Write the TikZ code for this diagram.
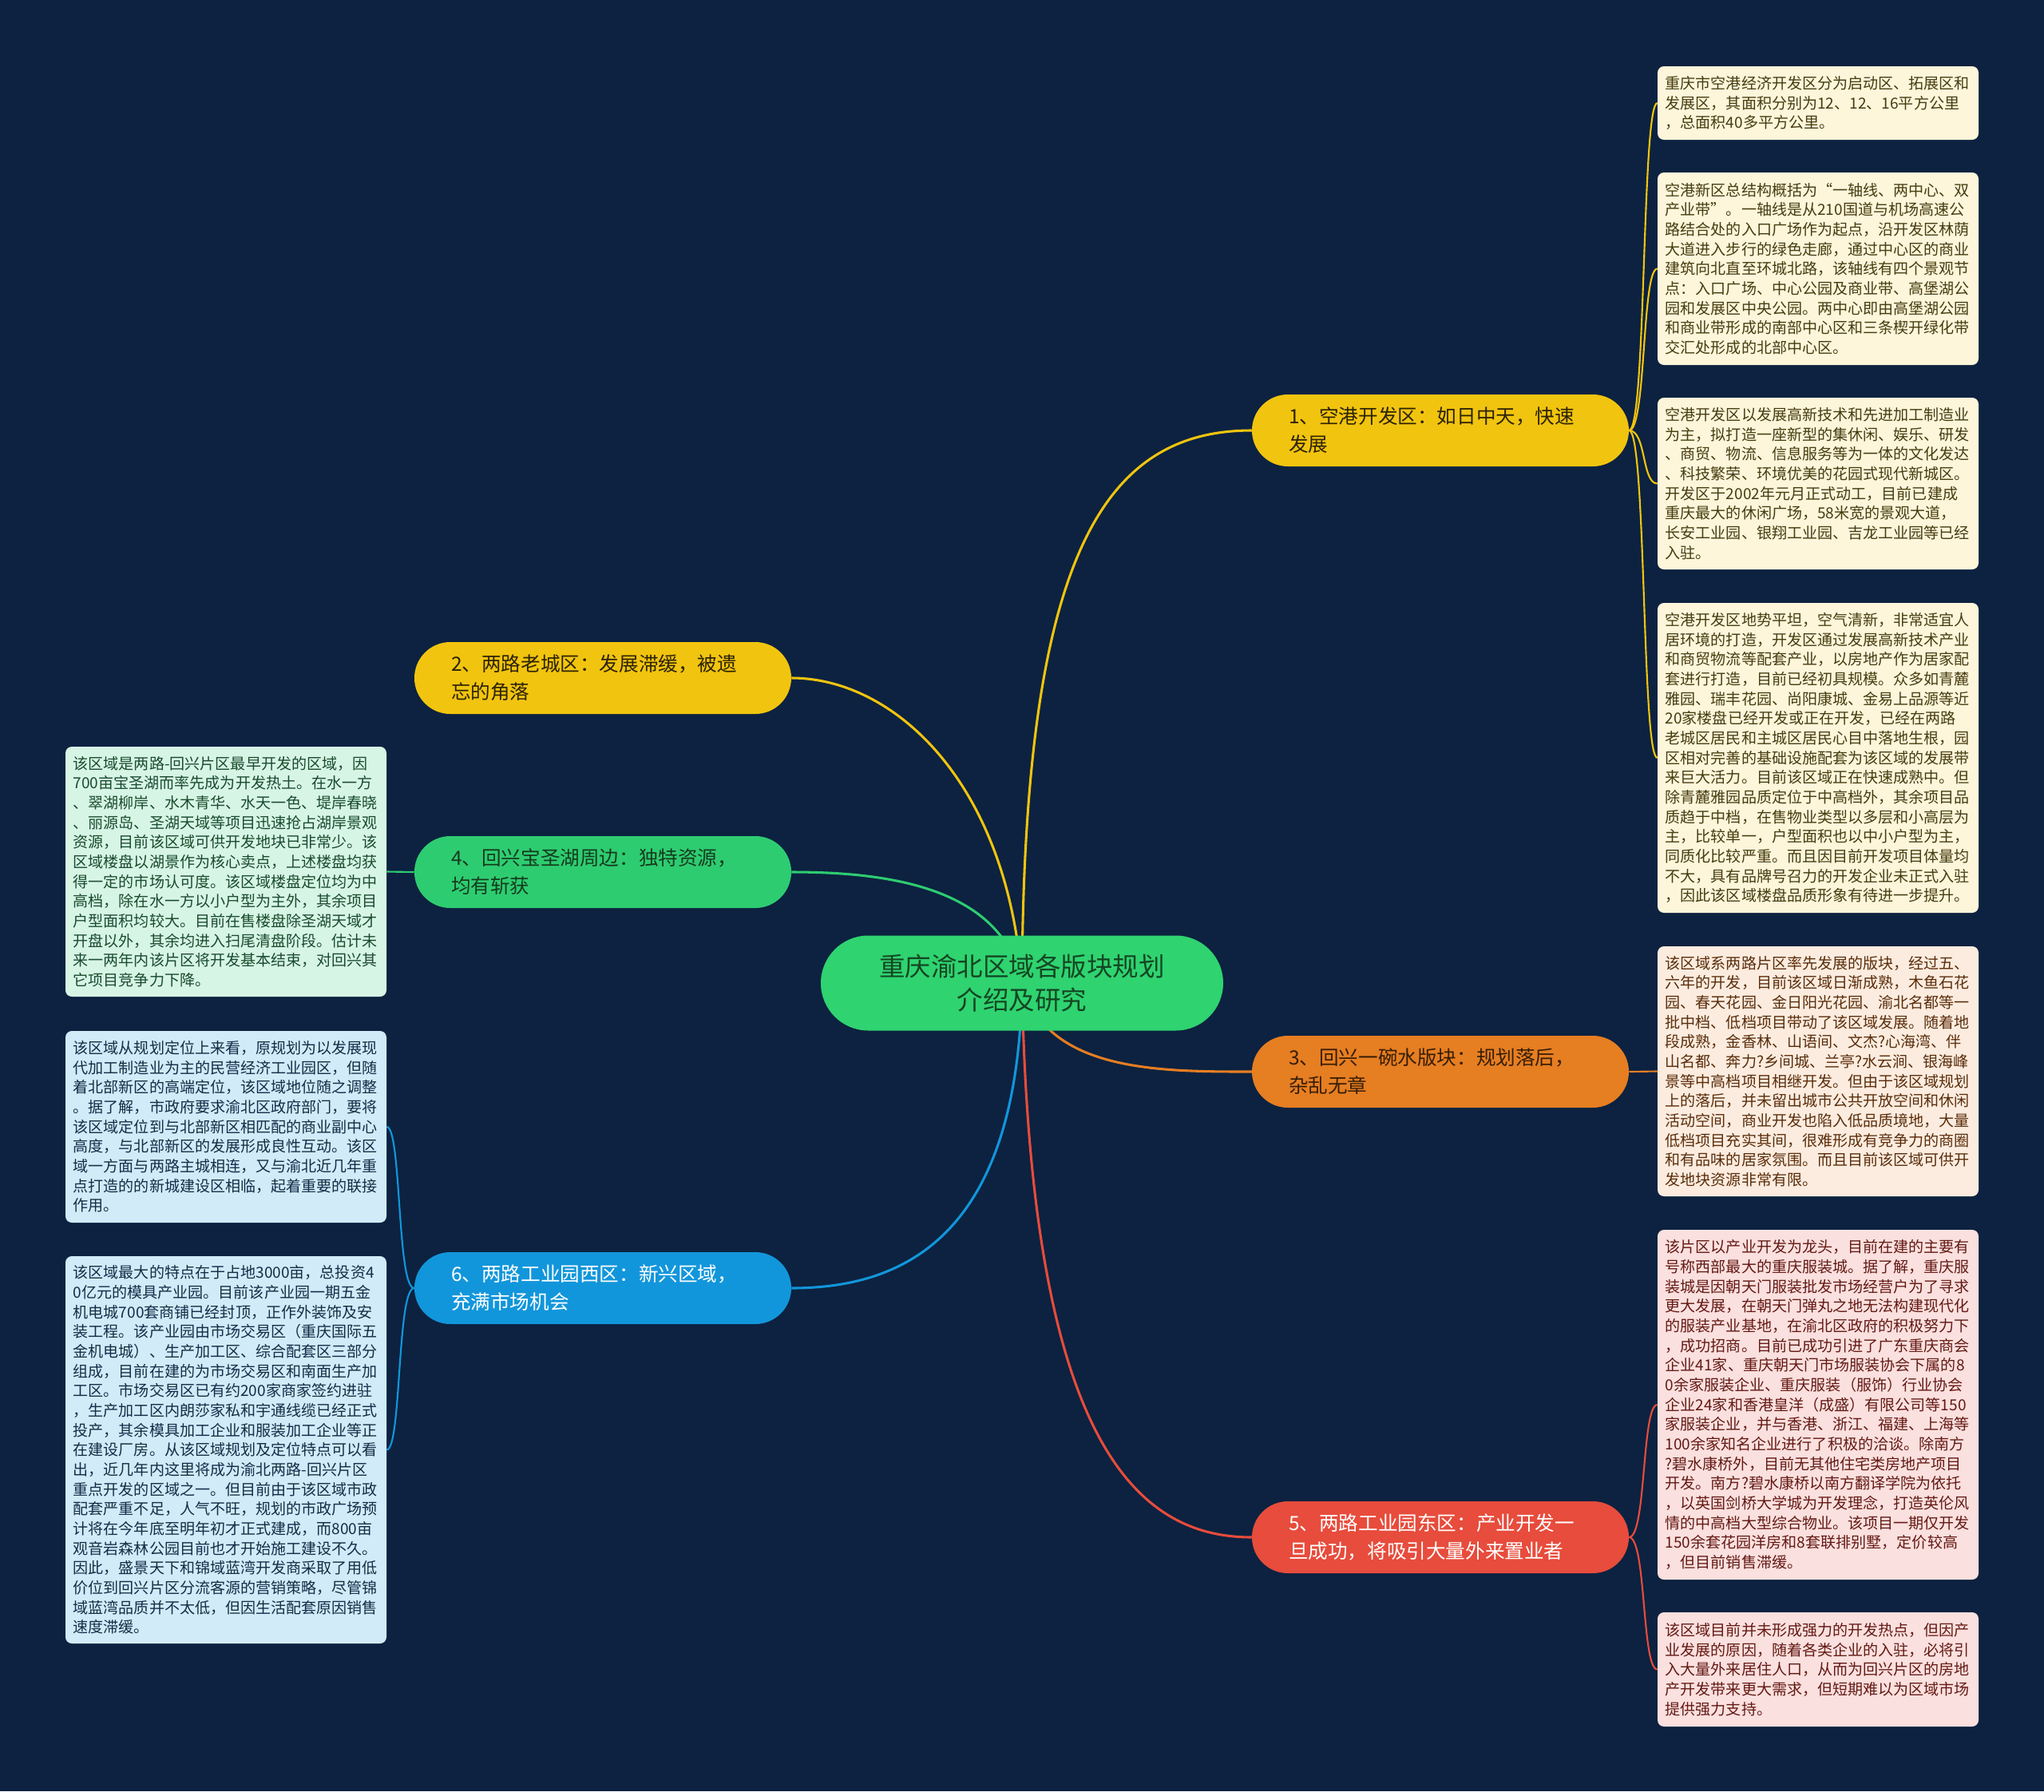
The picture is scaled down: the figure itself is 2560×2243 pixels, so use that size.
\documentclass[tikz,border=0pt]{standalone}
\usepackage{fontspec}
\setmainfont{Noto Sans CJK SC}
\pgfdeclarelayer{bg}
\pgfsetlayers{bg,main}
\definecolor{bgc}{RGB}{12,34,64}
\definecolor{rootc}{RGB}{47,211,112}
\definecolor{roott}{RGB}{20,70,35}
\definecolor{yel}{RGB}{241,196,15}
\definecolor{yelt}{RGB}{45,35,5}
\definecolor{yelf}{RGB}{253,246,219}
\definecolor{yellt}{RGB}{70,60,15}
\definecolor{grn}{RGB}{46,204,113}
\definecolor{grnt}{RGB}{20,60,30}
\definecolor{grnf}{RGB}{215,245,229}
\definecolor{grnlt}{RGB}{25,75,45}
\definecolor{blu}{RGB}{18,150,219}
\definecolor{bluf}{RGB}{209,235,249}
\definecolor{blult}{RGB}{20,45,70}
\definecolor{org}{RGB}{230,126,34}
\definecolor{orgt}{RGB}{55,30,5}
\definecolor{orgf}{RGB}{252,236,223}
\definecolor{orglt}{RGB}{90,45,10}
\definecolor{redc}{RGB}{231,76,60}
\definecolor{redf}{RGB}{250,224,222}
\definecolor{redlt}{RGB}{100,25,20}
\begin{document}
\begin{tikzpicture}[x=0.75pt,y=-0.75pt,
  rootnode/.style={fill=rootc,text=roott,rounded corners=44.6pt,minimum width=378pt,minimum height=89.25pt,inner sep=0pt,align=center,font=\fontsize{24.4}{32}\selectfont},
  branch/.style={rounded corners=33.7pt,minimum width=354pt,minimum height=67.5pt,inner sep=0pt,text width=285pt,align=left,font=\fontsize{18.45}{26.25}\selectfont},
  leaf/.style={rounded corners=6pt,minimum width=301.5pt,inner sep=0pt,text width=287pt,align=left,font=\fontsize{14.3}{18.5}\selectfont},
  mainlink/.style={line width=2.3pt},
  sublink/.style={line width=1.6pt}]
\useasboundingbox (0,0) rectangle (2560,2243);
% central node
\node[rootnode] (root) at (1280,1231) {重庆渝北区域各版块规划\\介绍及研究};
% branches
\node[branch,fill=yel,text=yelt] (b1) at (1804,539) {1、空港开发区：如日中天，快速\\发展};
\node[branch,fill=yel,text=yelt] (b2) at (755,849) {2、两路老城区：发展滞缓，被遗\\忘的角落};
\node[branch,fill=grn,text=grnt] (b4) at (755,1092) {4、回兴宝圣湖周边：独特资源，\\均有斩获};
\node[branch,fill=blu,text=white] (b6) at (755,1613) {6、两路工业园西区：新兴区域，\\充满市场机会};
\node[branch,fill=org,text=orgt] (b3) at (1804,1342) {3、回兴一碗水版块：规划落后，\\杂乱无章};
\node[branch,fill=redc,text=white] (b5) at (1804,1925) {5、两路工业园东区：产业开发一\\旦成功，将吸引大量外来置业者};
% leaves of branch 1
\node[leaf,fill=yelf,text=yellt,minimum height=69pt] (r1) at (2277,129) {重庆市空港经济开发区分为启动区、拓展区和\\发展区，其面积分别为12、12、16平方公里\\，总面积40多平方公里。};
\node[leaf,fill=yelf,text=yellt,minimum height=180.75pt] (r2) at (2277,336.5) {空港新区总结构概括为“一轴线、两中心、双\\产业带”。一轴线是从210国道与机场高速公\\路结合处的入口广场作为起点，沿开发区林荫\\大道进入步行的绿色走廊，通过中心区的商业\\建筑向北直至环城北路，该轴线有四个景观节\\点：入口广场、中心公园及商业带、高堡湖公\\园和发展区中央公园。两中心即由高堡湖公园\\和商业带形成的南部中心区和三条楔开绿化带\\交汇处形成的北部中心区。};
\node[leaf,fill=yelf,text=yellt,minimum height=161.25pt] (r3) at (2277,605.5) {空港开发区以发展高新技术和先进加工制造业\\为主，拟打造一座新型的集休闲、娱乐、研发\\、商贸、物流、信息服务等为一体的文化发达\\、科技繁荣、环境优美的花园式现代新城区。\\开发区于2002年元月正式动工，目前已建成\\重庆最大的休闲广场，58米宽的景观大道，\\长安工业园、银翔工业园、吉龙工业园等已经\\入驻。};
\node[leaf,fill=yelf,text=yellt,minimum height=291pt] (r4) at (2277,949) {空港开发区地势平坦，空气清新，非常适宜人\\居环境的打造，开发区通过发展高新技术产业\\和商贸物流等配套产业，以房地产作为居家配\\套进行打造，目前已经初具规模。众多如青麓\\雅园、瑞丰花园、尚阳康城、金易上品源等近\\20家楼盘已经开发或正在开发，已经在两路\\老城区居民和主城区居民心目中落地生根，园\\区相对完善的基础设施配套为该区域的发展带\\来巨大活力。目前该区域正在快速成熟中。但\\除青麓雅园品质定位于中高档外，其余项目品\\质趋于中档，在售物业类型以多层和小高层为\\主，比较单一，户型面积也以中小户型为主，\\同质化比较严重。而且因目前开发项目体量均\\不大，具有品牌号召力的开发企业未正式入驻\\，因此该区域楼盘品质形象有待进一步提升。};
% leaf of branch 3
\node[leaf,fill=orgf,text=orglt,minimum height=234.75pt] (r3b) at (2277,1341.5) {该区域系两路片区率先发展的版块，经过五、\\六年的开发，目前该区域日渐成熟，木鱼石花\\园、春天花园、金日阳光花园、渝北名都等一\\批中档、低档项目带动了该区域发展。随着地\\段成熟，金香林、山语间、文杰?心海湾、伴\\山名都、奔力?乡间城、兰亭?水云涧、银海峰\\景等中高档项目相继开发。但由于该区域规划\\上的落后，并未留出城市公共开放空间和休闲\\活动空间，商业开发也陷入低品质境地，大量\\低档项目充实其间，很难形成有竞争力的商圈\\和有品味的居家氛围。而且目前该区域可供开\\发地块资源非常有限。};
% leaves of branch 5
\node[leaf,fill=redf,text=redlt,minimum height=328.5pt] (r5a) at (2277,1759) {该片区以产业开发为龙头，目前在建的主要有\\号称西部最大的重庆服装城。据了解，重庆服\\装城是因朝天门服装批发市场经营户为了寻求\\更大发展，在朝天门弹丸之地无法构建现代化\\的服装产业基地，在渝北区政府的积极努力下\\，成功招商。目前已成功引进了广东重庆商会\\企业41家、重庆朝天门市场服装协会下属的8\\0余家服装企业、重庆服装（服饰）行业协会\\企业24家和香港皇洋（成盛）有限公司等150\\家服装企业，并与香港、浙江、福建、上海等\\100余家知名企业进行了积极的洽谈。除南方\\?碧水康桥外，目前无其他住宅类房地产项目\\开发。南方?碧水康桥以南方翻译学院为依托\\，以英国剑桥大学城为开发理念，打造英伦风\\情的中高档大型综合物业。该项目一期仅开发\\150余套花园洋房和8套联排别墅，定价较高\\，但目前销售滞缓。};
\node[leaf,fill=redf,text=redlt,minimum height=107.25pt] (r5b) at (2277,2090.5) {该区域目前并未形成强力的开发热点，但因产\\业发展的原因，随着各类企业的入驻，必将引\\入大量外来居住人口，从而为回兴片区的房地\\产开发带来更大需求，但短期难以为区域市场\\提供强力支持。};
% leaf of branch 4
\node[leaf,fill=grnf,text=grnlt,minimum height=234.75pt] (l4) at (283,1091.5) {该区域是两路-回兴片区最早开发的区域，因\\700亩宝圣湖而率先成为开发热土。在水一方\\、翠湖柳岸、水木青华、水天一色、堤岸春晓\\、丽源岛、圣湖天域等项目迅速抢占湖岸景观\\资源，目前该区域可供开发地块已非常少。该\\区域楼盘以湖景作为核心卖点，上述楼盘均获\\得一定的市场认可度。该区域楼盘定位均为中\\高档，除在水一方以小户型为主外，其余项目\\户型面积均较大。目前在售楼盘除圣湖天域才\\开盘以外，其余均进入扫尾清盘阶段。估计未\\来一两年内该片区将开发基本结束，对回兴其\\它项目竞争力下降。};
% leaves of branch 6
\node[leaf,fill=bluf,text=blult,minimum height=180pt] (l6a) at (283,1411) {该区域从规划定位上来看，原规划为以发展现\\代加工制造业为主的民营经济工业园区，但随\\着北部新区的高端定位，该区域地位随之调整\\。据了解，市政府要求渝北区政府部门，要将\\该区域定位到与北部新区相匹配的商业副中心\\高度，与北部新区的发展形成良性互动。该区\\域一方面与两路主城相连，又与渝北近几年重\\点打造的的新城建设区相临，起着重要的联接\\作用。};
\node[leaf,fill=bluf,text=blult,minimum height=363.75pt] (l6b) at (283,1815.5) {该区域最大的特点在于占地3000亩，总投资4\\0亿元的模具产业园。目前该产业园一期五金\\机电城700套商铺已经封顶，正作外装饰及安\\装工程。该产业园由市场交易区（重庆国际五\\金机电城）、生产加工区、综合配套区三部分\\组成，目前在建的为市场交易区和南面生产加\\工区。市场交易区已有约200家商家签约进驻\\，生产加工区内朗莎家私和宇通线缆已经正式\\投产，其余模具加工企业和服装加工企业等正\\在建设厂房。从该区域规划及定位特点可以看\\出，近几年内这里将成为渝北两路-回兴片区\\重点开发的区域之一。但目前由于该区域市政\\配套严重不足，人气不旺，规划的市政广场预\\计将在今年底至明年初才正式建成，而800亩\\观音岩森林公园目前也才开始施工建设不久。\\因此，盛景天下和锦域蓝湾开发商采取了用低\\价位到回兴片区分流客源的营销策略，尽管锦\\域蓝湾品质并不太低，但因生活配套原因销售\\速度滞缓。};
\begin{pgfonlayer}{bg}
\fill[bgc] (0,0) rectangle (2560,2243);
% main connectors
\draw[mainlink,yel] (root.center) .. controls (1282,700) and (1380,539) .. (b1.west);
\draw[mainlink,yel] (root.center) .. controls (1262,980) and (1120,849) .. (b2.east);
\draw[mainlink,grn] (root.center) .. controls (1255,1110) and (1110,1092) .. (b4.east);
\draw[mainlink,blu] (root.center) .. controls (1276,1550) and (1130,1613) .. (b6.east);
\draw[mainlink,org] (root.center) .. controls (1310,1342) and (1450,1342) .. (b3.west);
\draw[mainlink,redc] (root.center) .. controls (1290,1800) and (1420,1925) .. (b5.west);
% sub connectors
\draw[sublink,yel] (b1.east) .. controls (2062,539) and (2056,129) .. (r1.west);
\draw[sublink,yel] (b1.east) .. controls (2062,539) and (2056,336.5) .. (r2.west);
\draw[sublink,yel] (b1.east) .. controls (2062,539) and (2056,605.5) .. (r3.west);
\draw[sublink,yel] (b1.east) .. controls (2062,539) and (2056,949) .. (r4.west);
\draw[sublink,org] (b3.east) -- (r3b.west);
\draw[sublink,redc] (b5.east) .. controls (2062,1925) and (2056,1759) .. (r5a.west);
\draw[sublink,redc] (b5.east) .. controls (2062,1925) and (2056,2090.5) .. (r5b.west);
\draw[sublink,grn] (b4.west) -- (l4.east);
\draw[sublink,blu] (b6.west) .. controls (497,1613) and (503,1411) .. (l6a.east);
\draw[sublink,blu] (b6.west) .. controls (497,1613) and (503,1815.5) .. (l6b.east);
\end{pgfonlayer}
\end{tikzpicture}
\end{document}
